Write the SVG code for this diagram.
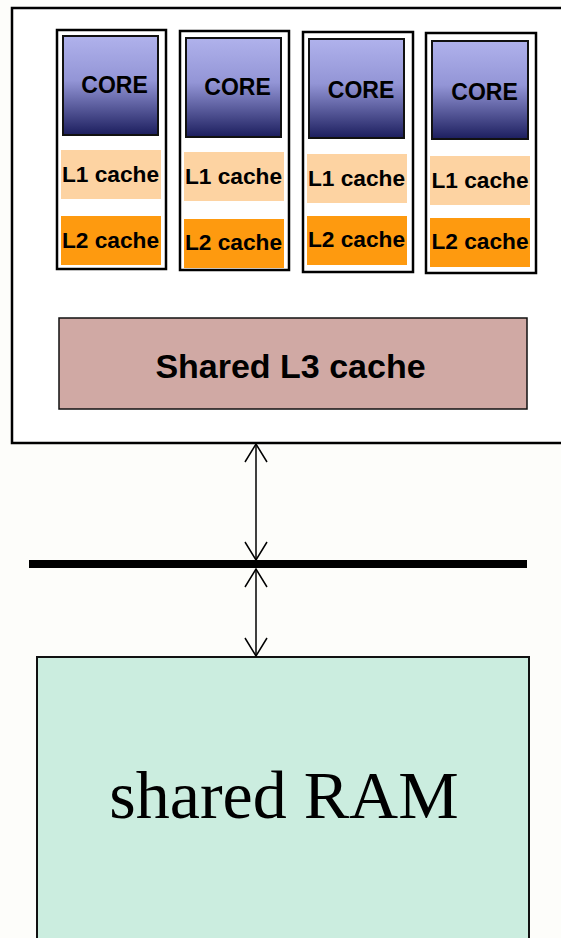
<svg xmlns="http://www.w3.org/2000/svg" width="561" height="938" viewBox="0 0 561 938">
<defs>
<linearGradient id="coreGrad" x1="0" y1="0" x2="0" y2="1">
<stop offset="0" stop-color="#b0b2ec"/>
<stop offset="0.45" stop-color="#9395d6"/>
<stop offset="1" stop-color="#1c1e5e"/>
</linearGradient>
<marker id="arr" viewBox="0 0 20 24" refX="19" refY="12" markerWidth="20" markerHeight="24" markerUnits="userSpaceOnUse" orient="auto-start-reverse">
<path d="M1,1 L19,12 L1,23" fill="none" stroke="#000" stroke-width="1.5"/>
</marker>
<style>
.col{fill:#fff;stroke:#000;stroke-width:2.5}
.core{fill:url(#coreGrad);stroke:#111;stroke-width:2}
.l1{fill:#fdd3a2}
.l2{fill:#fe9a0f}
.bt{font-family:"Liberation Sans",Arial,sans-serif;font-weight:bold;fill:#000;text-anchor:middle}
.ct{font-size:23px}
.lt{font-size:22.7px}
.conn{stroke:#000;stroke-width:1.5;fill:none}
</style>
</defs>
<rect x="0" y="0" width="561" height="938" fill="#fdfdfa"/>
<g id="chip">
<rect x="12" y="8" width="560" height="435" fill="#fff" stroke="#000" stroke-width="2.5"/>
</g>
<g id="col1">
<rect class="col" x="57" y="30" width="109" height="239"/>
<rect class="core" x="63" y="36" width="95" height="99"/>
<text class="bt ct" x="114.5" y="93">CORE</text>
<rect class="l1" x="61" y="150" width="100" height="49"/>
<text class="bt lt" x="110.5" y="182">L1 cache</text>
<rect class="l2" x="61" y="216" width="100" height="49"/>
<text class="bt lt" x="110.5" y="248">L2 cache</text>
</g>
<g id="col2">
<rect class="col" x="180" y="31" width="109" height="239"/>
<rect class="core" x="186" y="38" width="95" height="99"/>
<text class="bt ct" x="237.5" y="95">CORE</text>
<rect class="l1" x="184" y="152" width="100" height="49"/>
<text class="bt lt" x="233.5" y="184">L1 cache</text>
<rect class="l2" x="184" y="219" width="100" height="49"/>
<text class="bt lt" x="233.5" y="250">L2 cache</text>
</g>
<g id="col3">
<rect class="col" x="303" y="32" width="110" height="240"/>
<rect class="core" x="309" y="39" width="95" height="99"/>
<text class="bt ct" x="361" y="98">CORE</text>
<rect class="l1" x="307" y="154" width="100" height="49"/>
<text class="bt lt" x="356.5" y="186">L1 cache</text>
<rect class="l2" x="307" y="216" width="100" height="49"/>
<text class="bt lt" x="356.5" y="247">L2 cache</text>
</g>
<g id="col4">
<rect class="col" x="426" y="33" width="110" height="240"/>
<rect class="core" x="432" y="41" width="96" height="98"/>
<text class="bt ct" x="484.5" y="100">CORE</text>
<rect class="l1" x="430" y="156" width="100" height="49"/>
<text class="bt lt" x="480" y="188">L1 cache</text>
<rect class="l2" x="430" y="218" width="100" height="49"/>
<text class="bt lt" x="480" y="249">L2 cache</text>
</g>
<g id="l3">
<rect x="59" y="318" width="468" height="91" fill="#d0a9a4" stroke="#111" stroke-width="1.5"/>
<text class="bt" x="290.5" y="378" font-size="34">Shared L3 cache</text>
</g>
<g id="bus">
<line x1="29" y1="564" x2="527" y2="564" stroke="#000" stroke-width="8"/>
</g>
<g id="ram">
<rect x="37" y="657" width="492" height="300" fill="#cbeddf" stroke="#111" stroke-width="2"/>
<text x="284" y="818" font-family="'Liberation Serif','Times New Roman',serif" font-size="68" fill="#000" text-anchor="middle">shared RAM</text>
</g>
<g id="connectors">
<line class="conn" x1="256" y1="444" x2="256" y2="560" marker-start="url(#arr)" marker-end="url(#arr)"/>
<line class="conn" x1="256" y1="569" x2="256" y2="656" marker-start="url(#arr)" marker-end="url(#arr)"/>
</g>
</svg>
